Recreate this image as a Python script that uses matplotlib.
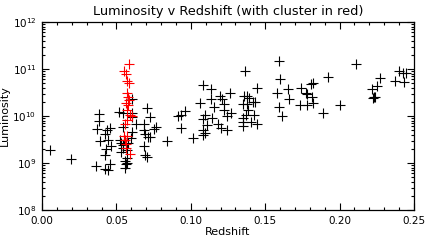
import matplotlib
matplotlib.use("Agg")
import matplotlib.pyplot as plt
from matplotlib.ticker import MultipleLocator, LogLocator, NullFormatter, FormatStrFormatter
import numpy as np

# Black (all galaxies) : redshift, log10 luminosity
black_z = [0.0052, 0.0198, 0.0360, 0.0383, 0.0380, 0.0372, 0.0392, 0.0421, 0.0444, 0.0459,
           0.0421, 0.0428, 0.0461, 0.0441, 0.0437, 0.0421, 0.0459, 0.0520, 0.0543, 0.0527,
           0.0534, 0.0529, 0.0543, 0.0603, 0.0603, 0.0608, 0.0608, 0.0633, 0.0545, 0.0561,
           0.0568, 0.0563, 0.0561, 0.0568, 0.0554, 0.0581, 0.0547, 0.0574, 0.0601, 0.0684,
           0.0684, 0.0691, 0.0705, 0.0728, 0.0711, 0.0728, 0.0684, 0.0691, 0.0705, 0.0755,
           0.0768, 0.0843, 0.0914, 0.0934, 0.0962, 0.0934, 0.1016, 0.1083, 0.1137, 0.1061,
           0.1137, 0.1157, 0.1196, 0.1211, 0.1225, 0.1225, 0.1266, 0.1268, 0.1245, 0.1097,
           0.1083, 0.1106, 0.1079, 0.1093, 0.1083, 0.1144, 0.1180, 0.1203, 0.1241, 0.1367,
           0.1448, 0.1356, 0.1376, 0.1390, 0.1353, 0.1380, 0.1421, 0.1432, 0.1387, 0.1370,
           0.1353, 0.1353, 0.1353, 0.1405, 0.1428, 0.1448, 0.1590, 0.1597, 0.1576, 0.1590,
           0.1610, 0.1651, 0.1657, 0.1739, 0.1775, 0.1782, 0.1806, 0.1820, 0.1813, 0.1736,
           0.1782, 0.1820, 0.2108, 0.1921, 0.1887, 0.2002, 0.2272, 0.2250, 0.2216, 0.2234,
           0.2240, 0.2226, 0.2374, 0.2401, 0.2426, 0.2446, 0.2434]
black_logL = [9.28, 9.09, 8.94, 10.04, 9.89, 9.73, 9.47, 8.87, 8.85, 8.97,
              9.18, 9.30, 9.36, 9.49, 9.70, 9.62, 9.74, 10.09, 10.06, 9.49,
              9.42, 9.24, 9.31, 10.36, 10.06, 9.98, 9.66, 9.83, 9.77, 9.04,
              9.01, 8.97, 8.90, 9.11, 9.49, 9.43, 9.38, 9.28, 9.53, 9.83,
              9.70, 9.61, 10.16, 9.97, 9.56, 9.55, 9.37, 9.18, 9.12, 9.72,
              9.76, 9.47, 9.99, 10.02, 10.11, 9.74, 9.53, 10.67, 10.57, 10.27,
              10.36, 10.19, 10.43, 10.36, 10.25, 10.13, 10.50, 10.06, 9.99, 10.02,
              9.93, 9.81, 9.70, 9.64, 9.60, 9.95, 9.83, 9.74, 9.70, 10.95,
              10.59, 10.43, 10.43, 10.39, 10.26, 10.26, 10.30, 10.30, 10.13, 10.02,
              9.95, 9.88, 9.79, 9.87, 10.02, 9.82, 11.17, 10.78, 10.48, 10.19,
              9.99, 10.57, 10.36, 10.59, 10.50, 10.46, 10.68, 10.71, 10.41, 10.23,
              10.23, 10.28, 11.10, 10.82, 10.06, 10.23, 10.80, 10.64, 10.57, 10.40,
              10.41, 10.38, 10.74, 10.96, 10.91, 10.91, 10.72]

# Red (cluster members)
red_z = [0.0583, 0.0549, 0.0563, 0.0572, 0.0586, 0.0570, 0.0576, 0.0566, 0.0579, 0.0588,
         0.0593, 0.0603, 0.0572, 0.0561, 0.0570, 0.0554, 0.0570, 0.0561, 0.0566, 0.0563,
         0.0590]
red_logL = [11.10, 10.96, 10.89, 10.75, 10.71, 10.48, 10.41, 10.27, 10.23, 10.34,
            10.02, 9.99, 9.91, 9.84, 10.13, 9.57, 9.57, 9.50, 9.40, 9.31,
            9.19]

title = "Luminosity v Redshift (with cluster in red)"
xlabel = "Redshift"
ylabel = "Luminosity"
xlim = (0.0, 0.25)
ylim = (1e8, 1e12)

W, H = 429, 244
fig = plt.figure(figsize=(W / 100, H / 100), dpi=100)
ax = fig.add_axes([42 / W, 1 - 210 / H, (414 - 42) / W, (210 - 22) / H])

ax.plot(black_z, 10 ** np.array(black_logL), linestyle="none", marker="+",
        color="black", markersize=7, markeredgewidth=0.8)
ax.plot(red_z, 10 ** np.array(red_logL), linestyle="none", marker="+",
        color="red", markersize=7, markeredgewidth=0.8)

ax.set_yscale("log")
ax.set_xlim(*xlim)
ax.set_ylim(*ylim)

ax.xaxis.set_major_locator(MultipleLocator(0.05))
ax.xaxis.set_minor_locator(MultipleLocator(0.01))
ax.xaxis.set_major_formatter(FormatStrFormatter("%.2f"))
ax.yaxis.set_major_locator(LogLocator(base=10, numticks=10))
ax.yaxis.set_minor_locator(LogLocator(base=10, subs=np.arange(2, 10), numticks=10))
ax.yaxis.set_minor_formatter(NullFormatter())

ax.tick_params(axis="both", which="both", direction="in", top=True, right=True,
               width=0.8, color="black", labelsize=7.5, pad=4)
ax.tick_params(axis="both", which="major", length=5)
ax.tick_params(axis="both", which="minor", length=2.5)
for s in ax.spines.values():
    s.set_linewidth(0.9)

ax.set_title(title, fontsize=9.3, pad=5)
ax.set_xlabel(xlabel, fontsize=8, labelpad=1)
ax.set_ylabel(ylabel, fontsize=8, labelpad=2)

fig.savefig("out.png", dpi=100, facecolor="white")
